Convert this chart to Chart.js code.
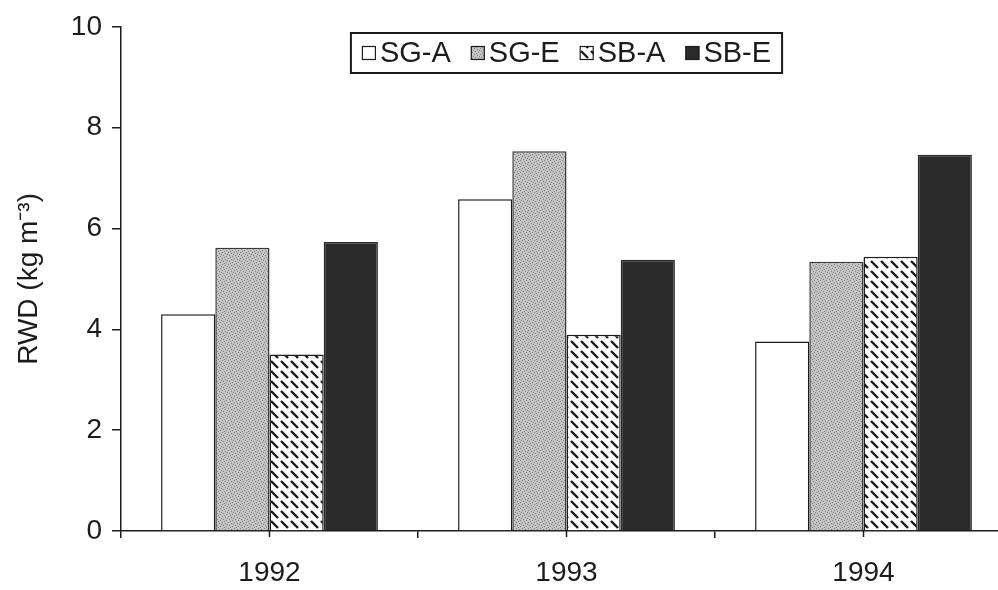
<!DOCTYPE html>
<html>
<head>
<meta charset="utf-8">
<script src="https://cdn.jsdelivr.net/npm/chart.js@4.4.1/dist/chart.umd.min.js"></script>
<style>
  html, body { margin: 0; padding: 0; background: #fff; overflow: hidden; }
  #wrap { width: 1014px; height: 590px; }
</style>
</head>
<body>
<div id="wrap"><canvas id="myChart" width="1014" height="590"></canvas></div>
<script>
const years = ["1992", "1993", "1994"];
const seriesNames = ["SG-A", "SG-E", "SB-A", "SB-E"];
const sgA = [4.3, 6.58, 3.76];
const sgE = [5.62, 7.53, 5.34];
const sbA = [3.5, 3.89, 5.44];
const sbE = [5.73, 5.38, 7.46];
const yTickStep = 2;
const yMax = 10;

const FONT = "'Liberation Sans', Arial, Helvetica, sans-serif";
const ink = "#1c1c1c";

const ctx = document.getElementById("myChart");
const g = ctx.getContext("2d");

const makeTile = (w, h, draw) => {
  const c = document.createElement("canvas");
  c.width = w;
  c.height = h;
  draw(c.getContext("2d"));
  return c;
};

// grey stipple for SG-E
const stipple = g.createPattern(makeTile(6, 6, (t) => {
  t.fillStyle = "#c2c2c2";
  t.fillRect(0, 0, 6, 6);
  t.fillStyle = "#888888";
  [[0, 0], [3, 1], [1, 3], [4, 4], [2, 5], [5, 2]].forEach(([x, y]) => t.fillRect(x, y, 1, 1));
}), "repeat");

// dashed "\" hatch for SB-A
const hatch = g.createPattern(makeTile(10, 10, (t) => {
  t.fillStyle = "#ffffff";
  t.fillRect(0, 0, 10, 10);
  t.strokeStyle = "#1a1a1a";
  t.lineWidth = 2.4;
  t.lineCap = "butt";
  for (const dx of [-10, 0, 10]) {
    for (const dy of [-10, 0, 10]) {
      t.beginPath();
      t.moveTo(1 + dx, 1 + dy);
      t.lineTo(8 + dx, 8 + dy);
      t.stroke();
    }
  }
}), "repeat");

const fills = ["#ffffff", stipple, hatch, "#2b2b2b"];
const borders = [ink, "#3a3a3a", ink, "#2b2b2b"];
const values = [sgA, sgE, sbA, sbE];

const centerTicks = {
  id: "centerTicks",
  afterDraw(chart) {
    const { ctx, scales, chartArea } = chart;
    ctx.save();
    ctx.strokeStyle = ink;
    ctx.lineWidth = 1.5;
    years.forEach((_, i) => {
      const px = scales.x.getPixelForValue(i);
      ctx.beginPath();
      ctx.moveTo(px, chartArea.bottom);
      ctx.lineTo(px, chartArea.bottom + 6);
      ctx.stroke();
    });
    ctx.restore();
  },
};

const boxLegend = {
  id: "boxLegend",
  afterDraw(chart) {
    const { ctx, chartArea } = chart;
    ctx.save();
    ctx.font = "29px " + FONT;
    const sq = 14, gapSq = 4, gapItem = 20, padX = 11;
    const items = chart.data.datasets.map((ds) => ({ ds, w: sq + gapSq + ctx.measureText(ds.label).width }));
    const total = items.reduce((s, it) => s + it.w, 0) + gapItem * (items.length - 1) + padX * 2;
    const top = 33, h = 40;
    let x = (chartArea.left + chartArea.right) / 2 - total / 2;
    ctx.fillStyle = "#fff";
    ctx.fillRect(x, top, total, h);
    ctx.strokeStyle = ink;
    ctx.lineWidth = 2;
    ctx.strokeRect(x, top, total, h);
    x += padX;
    const mid = top + h / 2;
    items.forEach(({ ds, w }) => {
      ctx.fillStyle = ds.backgroundColor;
      ctx.fillRect(x, mid - sq / 2, sq, sq);
      ctx.strokeStyle = ink;
      ctx.lineWidth = 1.2;
      ctx.strokeRect(x + 0.5, mid - sq / 2 + 0.5, sq - 1, sq - 1);
      ctx.fillStyle = ink;
      ctx.textBaseline = "middle";
      ctx.fillText(ds.label, x + sq + gapSq, mid + 1);
      x += w + gapItem;
    });
    ctx.restore();
  },
};

const config = {
  type: "bar",
  data: {
    labels: years,
    datasets: seriesNames.map((name, i) => ({
      label: name,
      data: values[i],
      backgroundColor: fills[i],
      borderColor: borders[i],
      borderWidth: 1.5,
    })),
  },
  options: {
    responsive: false,
    animation: false,
    layout: { padding: { left: 0, right: 2, top: 20, bottom: 0 } },
    plugins: {
      legend: { display: false },
      tooltip: { enabled: false },
    },
    datasets: { bar: { barPercentage: 1, categoryPercentage: 0.73 } },
    scales: {
      x: {
        grid: { offset: true, drawOnChartArea: false, tickLength: 7, color: ink, lineWidth: 1.5 },
        border: { color: ink, width: 1.5 },
        ticks: { color: ink, font: { family: FONT, size: 28 }, padding: 18, maxRotation: 0 },
        afterFit: (s) => { s.height = 59; },
      },
      y: {
        min: 0,
        max: yMax,
        ticks: { stepSize: yTickStep, color: ink, font: { family: FONT, size: 28 }, padding: 10 },
        grid: { drawOnChartArea: false, tickLength: 9, color: ink, lineWidth: 1.5 },
        border: { color: ink, width: 1.5 },
        title: {
          display: true,
          text: "RWD (kg m⁻³)",
          color: ink,
          font: { family: FONT, size: 28 },
          padding: { top: 12, bottom: 0 },
        },
        afterFit: (s) => { s.width = 121; },
      },
    },
  },
  plugins: [centerTicks, boxLegend],
};

new Chart(ctx, config);
</script>
</body>
</html>
